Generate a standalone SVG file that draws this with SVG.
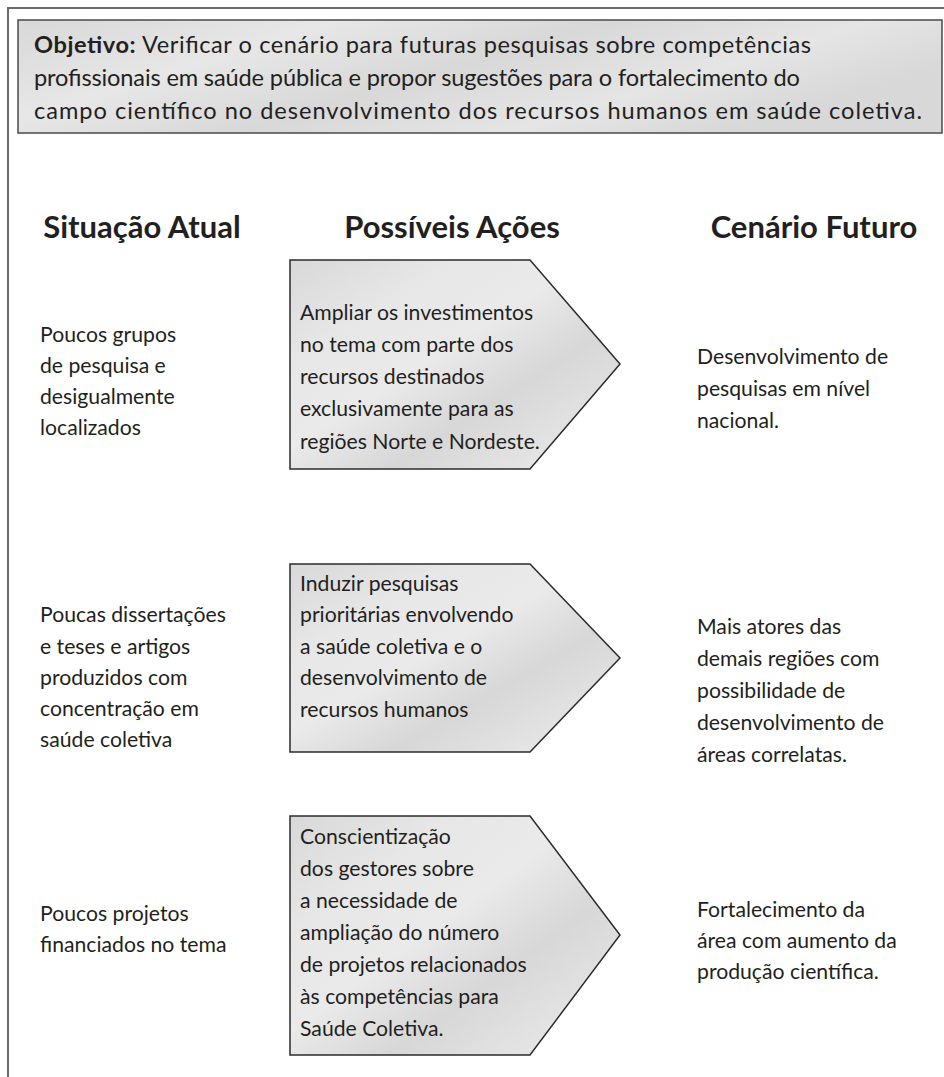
<svg xmlns="http://www.w3.org/2000/svg" width="944" height="1077" viewBox="0 0 944 1077">
<defs>
<linearGradient id="metal" x1="0" y1="0" x2="1" y2="1">
<stop offset="0" stop-color="#d8d8d8"/>
<stop offset="0.25" stop-color="#e7e7e7"/>
<stop offset="0.45" stop-color="#eaeaeb"/>
<stop offset="0.65" stop-color="#d7d7d7"/>
<stop offset="0.85" stop-color="#e4e4e4"/>
<stop offset="1" stop-color="#d5d5d5"/>
</linearGradient>
<linearGradient id="metalH" x1="0" y1="0" x2="1" y2="0.4">
<stop offset="0" stop-color="#d8d8d8"/>
<stop offset="0.3" stop-color="#e7e7e7"/>
<stop offset="0.55" stop-color="#d8d8d8"/>
<stop offset="0.8" stop-color="#e5e5e5"/>
<stop offset="1" stop-color="#d8d8d8"/>
</linearGradient>
<style>
text{font-family:Lato,"Liberation Sans",sans-serif;fill:#231f20;}
.t{font-size:21.2px;}
.obj{font-size:23.6px;}
.h{font-size:31px;font-weight:bold;text-anchor:middle;}
.arrow{fill:url(#metal);stroke:#2b2b2b;stroke-width:1.5;}
.frame{fill:none;stroke:#6a6a6a;stroke-width:2;}
</style>
</defs>
<rect width="944" height="1077" fill="#ffffff"/>
<g id="frame">
<path class="frame" d="M8,1077 V8 H944"/>
</g>
<g id="objective">
<rect x="18" y="20" width="924" height="113" fill="url(#metalH)" stroke="#4a4a4a" stroke-width="1.5"/>
<text class="obj" x="34" y="53" textLength="777" lengthAdjust="spacing"><tspan font-weight="bold">Objetivo:</tspan> Verificar o cenário para futuras pesquisas sobre competências</text>
<text class="obj" x="34" y="86" textLength="766" lengthAdjust="spacing">profissionais em saúde pública e propor sugestões para o fortalecimento do</text>
<text class="obj" x="34" y="119" textLength="888" lengthAdjust="spacing">campo científico no desenvolvimento dos recursos humanos em saúde coletiva.</text>
</g>
<g id="headers">
<text class="h" x="142" y="238">Situação Atual</text>
<text class="h" x="452" y="238">Possíveis Ações</text>
<text class="h" x="814" y="238">Cenário Futuro</text>
</g>
<g id="connectors"></g>
<g id="situacao1">
<text class="t" x="40" y="342">Poucos grupos</text>
<text class="t" x="40" y="373">de pesquisa e</text>
<text class="t" x="40" y="404">desigualmente</text>
<text class="t" x="40" y="435">localizados</text>
</g>
<g id="acao1">
<polygon class="arrow" points="290,260 530,260 620,364 530,469 290,469"/>
<text class="t" x="300" y="320">Ampliar os investimentos</text>
<text class="t" x="300" y="352">no tema com parte dos</text>
<text class="t" x="300" y="384">recursos destinados</text>
<text class="t" x="300" y="416">exclusivamente para as</text>
<text class="t" x="300" y="449">regiões Norte e Nordeste.</text>
</g>
<g id="futuro1">
<text class="t" x="697" y="364">Desenvolvimento de</text>
<text class="t" x="697" y="396">pesquisas em nível</text>
<text class="t" x="697" y="428">nacional.</text>
</g>
<g id="situacao2">
<text class="t" x="40" y="622">Poucas dissertações</text>
<text class="t" x="40" y="654">e teses e artigos</text>
<text class="t" x="40" y="685">produzidos com</text>
<text class="t" x="40" y="716">concentração em</text>
<text class="t" x="40" y="747">saúde coletiva</text>
</g>
<g id="acao2">
<polygon class="arrow" points="290,564 530,564 620,658 530,752 290,752"/>
<text class="t" x="300" y="591">Induzir pesquisas</text>
<text class="t" x="300" y="622">prioritárias envolvendo</text>
<text class="t" x="300" y="654">a saúde coletiva e o</text>
<text class="t" x="300" y="685">desenvolvimento de</text>
<text class="t" x="300" y="717">recursos humanos</text>
</g>
<g id="futuro2">
<text class="t" x="697" y="634">Mais atores das</text>
<text class="t" x="697" y="666">demais regiões com</text>
<text class="t" x="697" y="698">possibilidade de</text>
<text class="t" x="697" y="730">desenvolvimento de</text>
<text class="t" x="697" y="762">áreas correlatas.</text>
</g>
<g id="situacao3">
<text class="t" x="40" y="921">Poucos projetos</text>
<text class="t" x="40" y="952">financiados no tema</text>
</g>
<g id="acao3">
<polygon class="arrow" points="290,816 530,816 620,935 530,1055 290,1055"/>
<text class="t" x="300" y="844">Conscientização</text>
<text class="t" x="300" y="876">dos gestores sobre</text>
<text class="t" x="300" y="908">a necessidade de</text>
<text class="t" x="300" y="940">ampliação do número</text>
<text class="t" x="300" y="972">de projetos relacionados</text>
<text class="t" x="300" y="1004">às competências para</text>
<text class="t" x="300" y="1036">Saúde Coletiva.</text>
</g>
<g id="futuro3">
<text class="t" x="697" y="917">Fortalecimento da</text>
<text class="t" x="697" y="948">área com aumento da</text>
<text class="t" x="697" y="979">produção científica.</text>
</g>
</svg>
